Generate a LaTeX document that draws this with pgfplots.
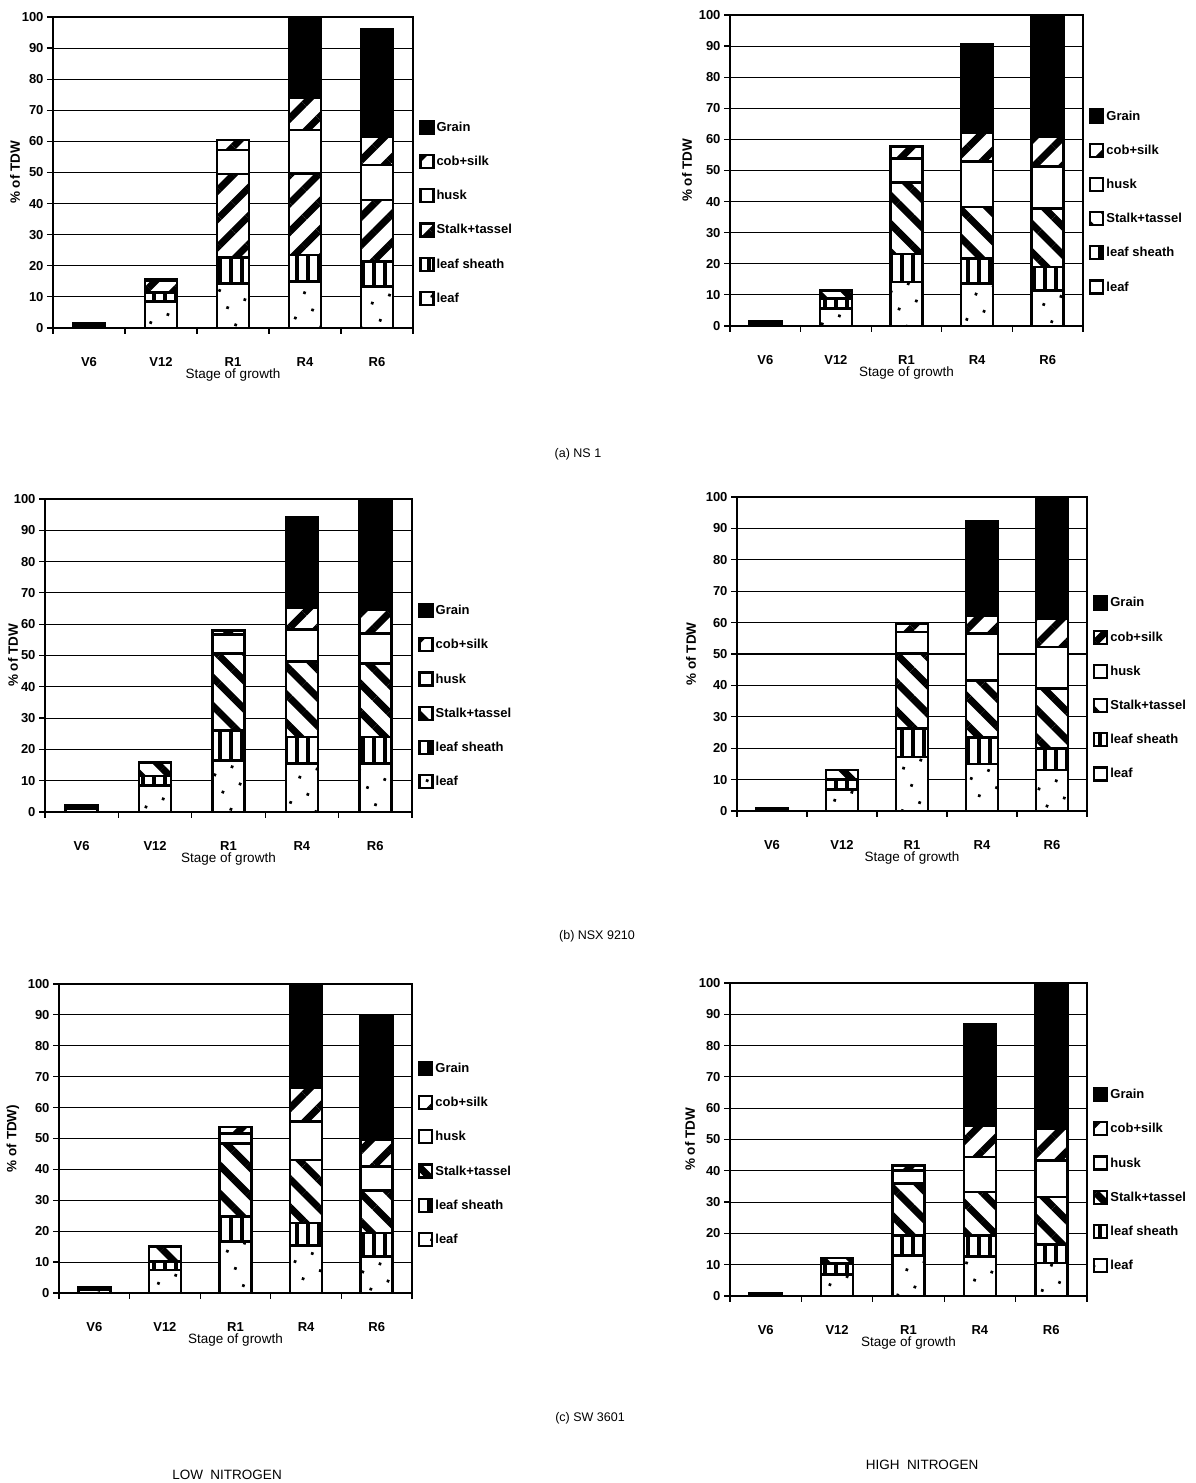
\documentclass[border=0pt]{standalone}
\usepackage{fontspec}
\setmainfont{Liberation Sans}
\usepackage{pgfplots}
\pgfplotsset{compat=1.18}
\usepackage{pgfplotstable}
\usetikzlibrary{patterns.meta}

% Dry-weight share (% of TDW) of each plant part, segment heights per stage
% columns: stage index, leaf, leaf sheath, stalk+tassel, husk, cob+silk, grain
\pgfplotstableread{
x leaf sheath stalk husk cob grain
1 0.8  0.3 0.4  0    0    0
2 8.5  3.0 3.7  0.2  0.1  0
3 14.4 8.3 26.8 7.7  3.2  0
4 15.0 8.5 26.2 13.9 10.4 26.0
5 13.4 8.0 19.8 11.2 9.1  34.5
}\tabAL
\pgfplotstableread{
x leaf sheath stalk husk cob grain
1 0.8  0.3 0.4  0    0    0
2 5.6  3.2 2.5  0.2  0    0
3 14.2 8.9 23.0 7.8  3.8  0
4 13.6 8.1 16.6 14.5 9.4  28.5
5 11.5 7.5 18.8 13.4 9.7  39.1
}\tabAH
\pgfplotstableread{
x leaf sheath stalk husk cob grain
1 1.0  0.5 0.5  0    0    0
2 8.5  3.0 4.2  0.2  0.1  0
3 16.5 9.6 24.5 6.2  1.2  0
4 15.5 8.5 24.0 10.3 7.1  28.9
5 15.5 8.5 23.4 9.6  7.5  35.5
}\tabBL
\pgfplotstableread{
x leaf sheath stalk husk cob grain
1 0.6  0.2 0.2  0    0    0
2 6.8  3.2 3.0  0    0    0
3 17.2 9.0 23.9 6.9  2.7  0
4 15.0 8.4 18.2 14.9 5.8  29.9
5 13.0 6.9 19.1 13.2 9.1  38.7
}\tabBH
\pgfplotstableread{
x leaf sheath stalk husk cob grain
1 1.0  0.5 0.5  0    0    0
2 7.5  2.7 4.9  0    0    0
3 16.7 8.1 23.5 3.4  2.0  0
4 15.3 7.3 20.5 12.4 11.1 33.4
5 11.9 7.5 13.8 7.8  8.6  40.4
}\tabCL
\pgfplotstableread{
x leaf sheath stalk husk cob grain
1 0.5  0.2 0.3  0    0    0
2 6.9  3.4 1.9  0    0    0
3 13.0 6.4 16.5 4.2  1.6  0
4 12.7 6.7 13.8 11.2 10.1 32.2
5 10.5 6.0 15.1 11.7 10.2 46.5
}\tabCH

\newcommand{\tickfont}{\fontsize{13}{15}\selectfont\bfseries}
\newcommand{\labfont}{\fontsize{13.5}{16}\selectfont}
\newcommand{\capfont}{\fontsize{12.5}{15}\selectfont}

\pgfplotsset{
  segment/.style={draw=black, line width=2.6pt},
  sLeaf/.style={segment, fill=white,
    postaction={pattern={Dots[distance=19pt,radius=1.9pt,angle=25]}}},
  sSheath/.style={segment, fill=white,
    postaction={pattern={Lines[angle=90,distance=11pt,line width=3.6pt]}}},
  sStalkNE/.style={segment, fill=white,
    postaction={pattern={Lines[angle=45,distance=20pt,line width=7pt]}}},
  sStalkNW/.style={segment, fill=white,
    postaction={pattern={Lines[angle=-45,distance=20pt,line width=7pt]}}},
  sHusk/.style={segment, fill=white},
  sCob/.style={segment, fill=white,
    postaction={pattern={Lines[angle=45,distance=20pt,line width=7pt]}}},
  sGrain/.style={segment, fill=black},
  panel/.style={
    scale only axis, anchor=south west, clip=false,
    xmin=0.5, xmax=5.5, ymin=0, ymax=100,
    ybar stacked, bar width=32pt,
    axis line style={black, line width=1.2pt},
    xtick={0.5,1.5,...,5.5}, xticklabels={},
    extra x ticks={1,2,3,4,5},
    extra x tick labels={V6,V12,R1,R4,R6},
    extra x tick style={grid=none, major tick length=0pt,
      xticklabel style={anchor=center, yshift=-34pt}},
    ytick={0,10,...,100},
    ymajorgrids, major grid style={black, line width=1.1pt},
    tick align=outside, tick pos=left, major tick length=6pt,
    tick style={black, line width=1.2pt},
    /pgf/number format/assume math mode=true,
    ticklabel style={font=\tickfont},
    reverse legend, legend cell align=left,
    legend style={draw=none, fill=none, anchor=west, inner sep=0pt,
      font=\tickfont, row sep=19pt},
    legend image code/.code={\draw[##1, line width=2.2pt] (0pt,-6.5pt) rectangle (13pt,6.5pt);},
  },
}

\newcommand{\stackbars}[2]{%
  \addplot[sLeaf]   table[x=x, y=leaf]{#1};   \addlegendentry{leaf}
  \addplot[sSheath] table[x=x, y=sheath]{#1}; \addlegendentry{leaf sheath}
  \addplot[#2]      table[x=x, y=stalk]{#1};  \addlegendentry{Stalk+tassel}
  \addplot[sHusk]   table[x=x, y=husk]{#1};   \addlegendentry{husk}
  \addplot[sCob]    table[x=x, y=cob]{#1};    \addlegendentry{cob+silk}
  \addplot[sGrain]  table[x=x, y=grain]{#1};  \addlegendentry{Grain}
}

\begin{document}
\begin{tikzpicture}
\path[use as bounding box] (0pt,0pt) rectangle (1196pt,1483pt);

% row (a)
\begin{axis}[panel, name=aL, at={(53pt,1155pt)}, width=360pt, height=311pt,
  legend style={at={(1.017,0.37)}}]
  \stackbars{\tabAL}{sStalkNE}
\end{axis}
\begin{axis}[panel, name=aH, at={(730pt,1157pt)}, width=353pt, height=311pt,
  legend style={at={(1.017,0.40)}}]
  \stackbars{\tabAH}{sStalkNW}
\end{axis}

% row (b)
\begin{axis}[panel, name=bL, at={(45pt,671pt)}, width=367pt, height=313pt,
  legend style={at={(1.017,0.37)}}]
  \stackbars{\tabBL}{sStalkNW}
\end{axis}
\begin{axis}[panel, name=bH, at={(737pt,672pt)}, width=350pt, height=314pt,
  legend style={at={(1.017,0.39)}}]
  \stackbars{\tabBH}{sStalkNW}
\end{axis}

% row (c)
\begin{axis}[panel, name=cL, at={(59pt,190pt)}, width=353pt, height=309pt,
  legend style={at={(1.017,0.45)}}]
  \stackbars{\tabCL}{sStalkNW}
\end{axis}
\begin{axis}[panel, name=cH, at={(730pt,187pt)}, width=357pt, height=313pt,
  legend style={at={(1.017,0.37)}}]
  \stackbars{\tabCH}{sStalkNW}
\end{axis}

% axis titles
\foreach \ax/\dx in {aL/38, aH/43, bL/32, bH/46, cH/40}{
  \node[rotate=90, font=\labfont\bfseries] at ([xshift=-\dx pt]\ax.west) {\% of TDW};
}
\node[rotate=90, font=\labfont\bfseries] at ([xshift=-46pt]cL.west) {\% of TDW)};
\foreach \ax in {aL, aH, bL, bH, cL, cH}{
  \node[font=\labfont] at ([yshift=-47pt]\ax.south) {Stage of growth};
}

% cultivar captions and nitrogen levels
\node[font=\capfont] at (578pt,1029pt) {(a) NS 1};
\node[font=\capfont] at (597pt,547pt) {(b) NSX 9210};
\node[font=\capfont] at (590pt,65pt) {(c) SW 3601};
\node[font=\labfont] at (227pt,8pt) {LOW\ \ NITROGEN};
\node[font=\labfont] at (922pt,18pt) {HIGH\ \ NITROGEN};
\end{tikzpicture}
\end{document}
